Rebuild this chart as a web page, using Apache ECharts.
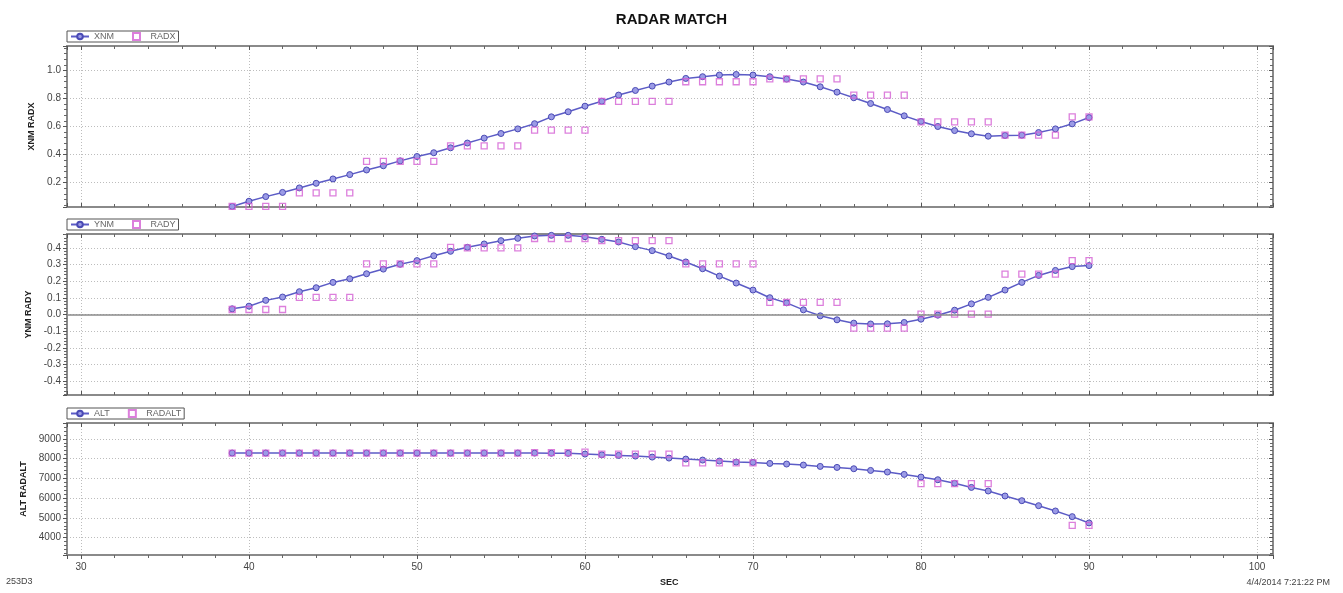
<!DOCTYPE html>
<html>
<head>
<meta charset="utf-8">
<title>RADAR MATCH</title>
<script src="https://cdn.jsdelivr.net/npm/echarts@6.0.0/dist/echarts.min.js"></script>
<style>
  html, body { margin: 0; padding: 0; background: #fff; }
  #chart { width: 1343px; height: 593px; }
</style>
</head>
<body>
<div id="chart"></div>
<script>
// time in seconds
var sec = [39, 40, 41, 42, 43, 44, 45, 46, 47, 48, 49, 50, 51, 52, 53, 54, 55, 56, 57, 58,
  59, 60, 61, 62, 63, 64, 65, 66, 67, 68, 69, 70, 71, 72, 73, 74, 75, 76, 77, 78,
  79, 80, 81, 82, 83, 84, 85, 86, 87, 88, 89, 90];

var xnm = [0.03, 0.067, 0.10, 0.13, 0.162, 0.195, 0.226, 0.257, 0.29, 0.32, 0.355, 0.386, 0.413, 0.448, 0.482, 0.517, 0.55, 0.583, 0.62, 0.669,
  0.705, 0.745, 0.78, 0.824, 0.857, 0.888, 0.917, 0.943, 0.955, 0.967, 0.971, 0.967, 0.955, 0.938, 0.917, 0.883, 0.845, 0.805, 0.764, 0.721,
  0.676, 0.636, 0.6, 0.571, 0.548, 0.531, 0.536, 0.538, 0.557, 0.583, 0.619, 0.664];
var radx = [0.03, 0.03, 0.03, 0.03, 0.127, 0.127, 0.127, 0.127, 0.352, 0.352, 0.352, 0.352, 0.352, 0.462, 0.462, 0.462, 0.462, 0.462, 0.574, 0.574,
  0.574, 0.574, 0.779, 0.779, 0.779, 0.779, 0.779, 0.919, 0.919, 0.919, 0.919, 0.919, 0.94, 0.94, 0.94, 0.94, 0.94, 0.824, 0.824, 0.824,
  0.824, 0.633, 0.633, 0.633, 0.633, 0.633, 0.538, 0.538, 0.538, 0.538, 0.669, 0.669];

var ynm = [0.034, 0.05, 0.085, 0.105, 0.137, 0.161, 0.193, 0.215, 0.245, 0.273, 0.302, 0.324, 0.353, 0.38, 0.404, 0.424, 0.444, 0.458, 0.472, 0.476,
  0.476, 0.468, 0.452, 0.436, 0.408, 0.384, 0.352, 0.316, 0.275, 0.231, 0.189, 0.147, 0.101, 0.07, 0.028, -0.008, -0.032, -0.052, -0.057, -0.056,
  -0.048, -0.028, -0.004, 0.026, 0.064, 0.103, 0.147, 0.193, 0.235, 0.265, 0.288, 0.294];
var rady = [0.03, 0.03, 0.03, 0.03, 0.103, 0.103, 0.103, 0.103, 0.304, 0.304, 0.304, 0.304, 0.304, 0.404, 0.4, 0.4, 0.4, 0.4, 0.457, 0.457,
  0.457, 0.457, 0.444, 0.444, 0.444, 0.444, 0.444, 0.304, 0.304, 0.304, 0.304, 0.304, 0.073, 0.073, 0.073, 0.073, 0.073, -0.082, -0.082, -0.082,
  -0.082, 0.002, 0.002, 0.002, 0.002, 0.002, 0.243, 0.243, 0.243, 0.243, 0.324, 0.324];

var alt = [8280, 8280, 8280, 8280, 8280, 8280, 8280, 8280, 8280, 8280, 8280, 8280, 8280, 8280, 8280, 8280, 8280, 8280, 8278, 8270,
  8265, 8227, 8190, 8160, 8126, 8075, 8025, 7975, 7924, 7874, 7823, 7805, 7754, 7722, 7672, 7603, 7553, 7485, 7400, 7318,
  7199, 7064, 6929, 6750, 6540, 6359, 6106, 5869, 5616, 5347, 5061, 4742];
var radalt = [8280, 8280, 8280, 8280, 8280, 8280, 8280, 8280, 8280, 8280, 8280, 8280, 8280, 8280, 8280, 8280, 8280, 8280, 8300, 8300,
  8300, 8330, 8220, 8220, 8220, 8220, 8220, 7780, 7780, 7780, 7780, 7780, null, null, null, null, null, null, null, null,
  null, 6727, 6727, 6727, 6727, 6727, null, null, null, null, 4620, 4620];

var names = [["XNM", "RADX"], ["YNM", "RADY"], ["ALT", "RADALT"]];
var yTitles = ["XNM RADX", "YNM RADY", "ALT RADALT"];

var FONT = "Liberation Sans";
var frame = "#8a8a8a";
var gridTops = [46, 234, 423];
var gridHeights = [161, 161, 132];
var yRange = [[0.026, 1.174], [-0.484, 0.484], [3120, 9800]];
var yStep = [0.2, 0.1, 1000];
var yFmt = [
  function (v) { return v.toFixed(1); },
  function (v) { return v.toFixed(1); },
  function (v) { return String(Math.round(v)); }
];

function pairs(xs, ys) {
  return xs.map(function (x, i) { return [x, ys[i]]; });
}

var grids = [], xAxes = [], yAxes = [], series = [], legends = [];

for (var g = 0; g < 3; g++) {
  grids.push({ left: 67, width: 1206, top: gridTops[g], height: gridHeights[g] });

  // bottom x axis
  xAxes.push({
    type: "value", gridIndex: g, position: "bottom",
    min: 29.17, max: 100.95, minInterval: 10, maxInterval: 10,
    axisLine: { show: true, onZero: false, lineStyle: { color: frame, width: 2 } },
    axisTick: { show: true, inside: g < 2, length: 4, lineStyle: { color: "#555" } },
    minorTick: { show: true, splitNumber: 5, length: 3, lineStyle: { color: "#666" } },
    axisLabel: {
      show: g === 2, fontFamily: FONT, fontSize: 10, color: "#444", margin: 7,
      showMinLabel: false, showMaxLabel: false
    },
    splitLine: { show: true, lineStyle: { color: "#bdbdbd", type: [1, 2], width: 1 } }
  });
  // top x axis (frame only)
  xAxes.push({
    type: "value", gridIndex: g, position: "top",
    min: 29.17, max: 100.95, minInterval: 10, maxInterval: 10,
    axisLine: { show: true, onZero: false, lineStyle: { color: frame, width: 2 } },
    axisTick: { show: true, inside: true, length: 4, lineStyle: { color: "#555" } },
    minorTick: { show: true, splitNumber: 5, length: 3, lineStyle: { color: "#666" } },
    axisLabel: { show: false },
    splitLine: { show: false }
  });

  // left y axis
  yAxes.push({
    type: "value", gridIndex: g, position: "left",
    min: yRange[g][0], max: yRange[g][1], minInterval: yStep[g], maxInterval: yStep[g],
    name: yTitles[g], nameLocation: "middle", nameGap: 28, nameRotate: 90,
    nameTextStyle: { fontFamily: FONT, fontSize: 9, fontWeight: "bold", color: "#222" },
    axisLine: { show: true, onZero: false, lineStyle: { color: frame, width: 2 } },
    axisTick: { show: true, length: 4, lineStyle: { color: "#555" } },
    minorTick: { show: true, splitNumber: 5, length: 3, lineStyle: { color: "#666" } },
    axisLabel: {
      fontFamily: FONT, fontSize: 10, color: "#444", margin: 6,
      showMinLabel: false, showMaxLabel: false, formatter: yFmt[g]
    },
    splitLine: { show: true, lineStyle: { color: "#bdbdbd", type: [1, 2], width: 1 } }
  });
  // right y axis (frame only)
  yAxes.push({
    type: "value", gridIndex: g, position: "right",
    min: yRange[g][0], max: yRange[g][1], minInterval: yStep[g], maxInterval: yStep[g],
    axisLine: { show: true, onZero: false, lineStyle: { color: frame, width: 2 } },
    axisTick: { show: true, inside: true, length: 4, lineStyle: { color: "#555" } },
    minorTick: { show: true, splitNumber: 5, length: 3, lineStyle: { color: "#666" } },
    axisLabel: { show: false },
    splitLine: { show: false }
  });

  legends.push({
    data: [
      { name: names[g][0] },
      { name: names[g][1], icon: "path://M0,0H10V10H0Z" }
    ],
    left: 67, top: gridTops[g] - 15,
    orient: "horizontal",
    itemWidth: 18, itemHeight: 7, itemGap: 18,
    padding: [1, 3, 1, 3],
    borderColor: "#555", borderWidth: 1,
    textStyle: { fontFamily: FONT, fontSize: 9, color: "#666" }
  });
}

var measured = [xnm, ynm, alt];
var radar = [radx, rady, radalt];

for (var k = 0; k < 3; k++) {
  var line = {
    name: names[k][0], type: "line",
    xAxisIndex: k * 2, yAxisIndex: k * 2,
    data: pairs(sec, measured[k]),
    symbol: "circle", symbolSize: 6, showSymbol: true,
    lineStyle: { color: "#5c5cc6", width: 1.5 },
    itemStyle: { color: "#9b9be6", borderColor: "#4a4ab4", borderWidth: 1 },
    z: 3, animation: false
  };
  if (k === 1) {
    line.markLine = {
      silent: true, symbol: "none", label: { show: false },
      lineStyle: { color: "#8a8a8a", type: "solid", width: 1.5 },
      data: [{ yAxis: 0 }]
    };
  }
  series.push(line);
  series.push({
    name: names[k][1], type: "scatter",
    xAxisIndex: k * 2, yAxisIndex: k * 2,
    data: pairs(sec, radar[k]).filter(function (p) { return p[1] !== null; }),
    symbol: "rect", symbolSize: 6,
    itemStyle: { color: "rgba(255,255,255,0)", borderColor: "#d35fd3", borderWidth: 1.3 },
    z: 4, animation: false
  });
}

var chart = echarts.init(document.getElementById("chart"));
chart.setOption({
  backgroundColor: "#fff",
  animation: false,
  title: {
    text: "RADAR MATCH", left: "center", top: 7,
    textStyle: { fontFamily: FONT, fontSize: 15, fontWeight: "bold", color: "#111" }
  },
  legend: legends,
  grid: grids,
  xAxis: xAxes,
  yAxis: yAxes,
  series: series,
  graphic: [
    { type: "text", left: 660, top: 578, style: { text: "SEC", fontFamily: FONT, fontSize: 9, fontWeight: "bold", fill: "#222" } },
    { type: "text", left: 6, top: 577, style: { text: "253D3", fontFamily: FONT, fontSize: 9, fill: "#444" } },
    { type: "text", right: 13, top: 578, style: { text: "4/4/2014 7:21:22 PM", fontFamily: FONT, fontSize: 9, fill: "#444" } }
  ]
});
</script>
</body>
</html>
